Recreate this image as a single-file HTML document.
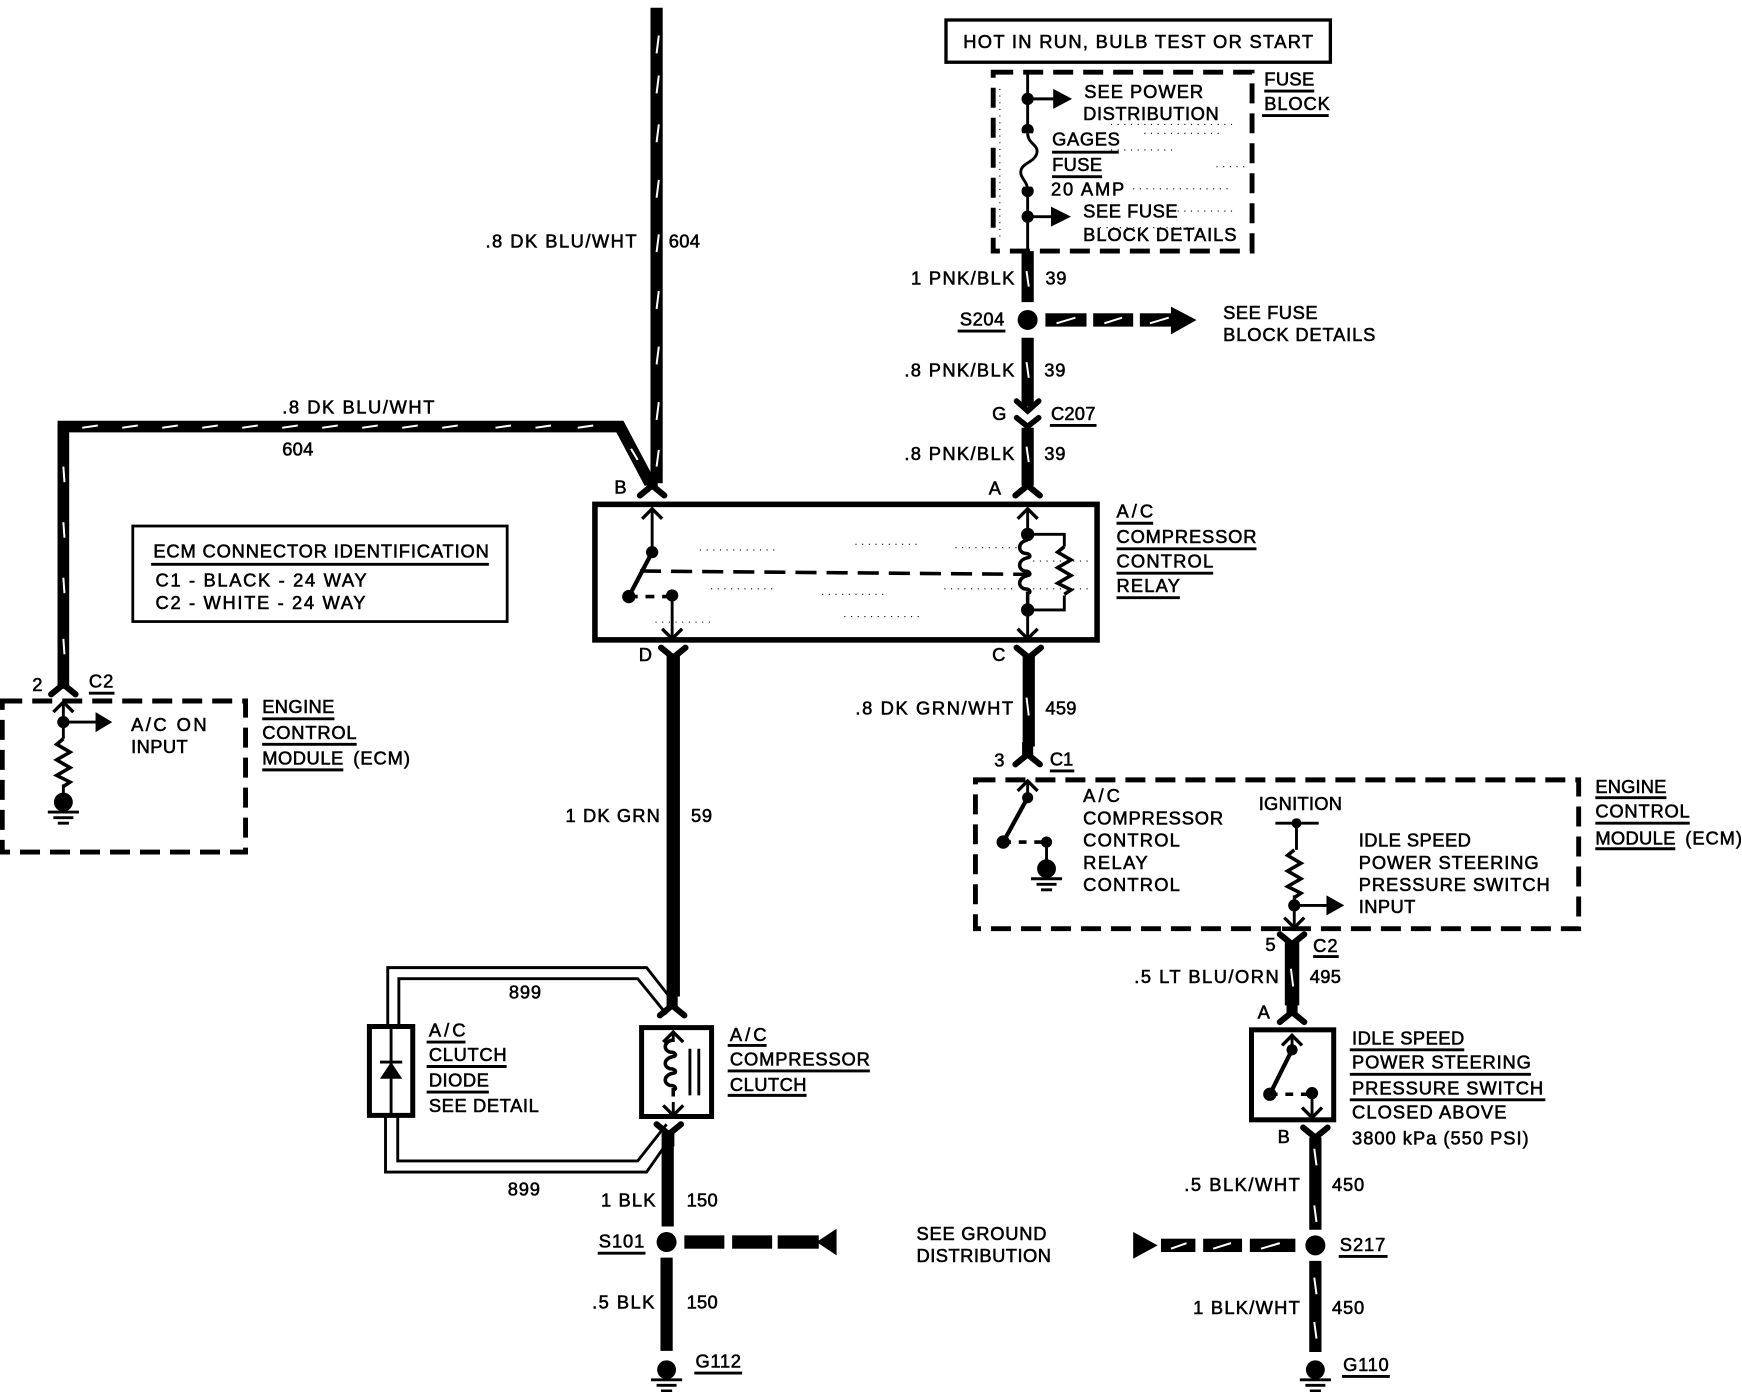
<!DOCTYPE html>
<html><head><meta charset="utf-8"><title>A/C Compressor Control Circuit</title>
<style>
html,body{margin:0;padding:0;background:#fff}
svg{display:block}
text{font-family:"Liberation Sans",sans-serif;font-size:16.5px;fill:#000;stroke:#000;stroke-width:.5}
.w{fill:none;stroke:#000;stroke-linejoin:miter}
.s{fill:none;stroke:#000;stroke-width:2.6}
.u{fill:none;stroke:#000;stroke-width:2.6}
.d{fill:none;stroke:#000;stroke-width:4.4;stroke-dasharray:18 9}
.h{fill:none;stroke:#fff;stroke-width:1.8}
.n{fill:none;stroke:#000;stroke-width:1;stroke-dasharray:1 5}
</style></head><body>
<svg xmlns="http://www.w3.org/2000/svg" width="1742" height="1392" viewBox="0 0 1568 1253">
<defs>
<g id="fd"><path d="M-11,6 L0,-3 L11,6" fill="none" stroke="#000" stroke-width="5.5" stroke-linecap="round"/><rect x="-5" y="-14" width="10" height="12"/></g>
<g id="fu"><path d="M-11,-6 L0,3 L11,-6" fill="none" stroke="#000" stroke-width="5.5" stroke-linecap="round"/><rect x="-5" y="2" width="10" height="12"/></g>
<path id="au" d="M-9,9 L0,0 L9,9" fill="none" stroke="#000" stroke-width="3"/>
<path id="ad" d="M-9,-9 L0,0 L9,-9" fill="none" stroke="#000" stroke-width="3"/>
<path id="res" d="M0,0 l-6,5 l12,7 l-12,7 l12,7 l-12,7 l12,6 l-6,4" fill="none" stroke="#000" stroke-width="3.2"/>
<path id="coil" d="M0,0 c-9,2 -9,9 -3,11 c6,0 6,4 3,4 c-9,2 -9,9 -3,11 c6,0 6,4 3,4 c-9,2 -9,9 -3,11 c6,0 6,4 3,4 l0,6" fill="none" stroke="#000" stroke-width="3.2"/>
<g id="gnd"><circle r="8.5" cx="0" cy="0"/><path d="M-14,9 H14 M-9,14 H9 M-5,19 H5" stroke="#000" stroke-width="2.6"/></g>
</defs>

<!-- speckle -->
<path class="n" d="M630,495 H700 M770,490 H830 M860,493 H915 M640,530 H700 M740,535 H800 M850,530 H915 M590,560 H640 M760,555 H830 M930,505 H980 M930,530 H980
M900,80 V215 M1000,112 H1110 M1030,120 H1100 M1020,170 H1110 M1060,190 H1110 M990,205 H1080 M1095,150 H1120 M1000,135 H1060"/>

<!-- Top box and fuse block -->
<rect x="851.5" y="18" width="346" height="38" fill="#fff" stroke="#000" stroke-width="3"/>
<text x="867" y="43" textLength="315">HOT IN RUN, BULB TEST OR START</text>
<rect x="894" y="65" width="233" height="161" class="d"/>
<path class="s" d="M925,65 V226"/>
<circle cx="925" cy="89" r="5.5"/><circle cx="925" cy="117" r="5.5"/><circle cx="925" cy="172" r="5.5"/><circle cx="925" cy="195" r="5.5"/>
<path class="s" d="M925,89 H950 M925,195 H950"/>
<path d="M948,80 L965,89 L948,98 Z M946,186 L964,195 L946,204 Z"/>
<rect x="920" y="120" width="14" height="48" fill="#fff"/>
<path class="s" stroke-width="3" d="M925,120 C925,130 936,130 933,139 C930,147 917,147 919,157 C921,163 925,164 925,172"/>
<text x="976" y="88" textLength="107">SEE POWER</text>
<text x="975" y="108" textLength="122">DISTRIBUTION</text>
<text x="947" y="131" textLength="61">GAGES</text>
<text x="947" y="154" textLength="45">FUSE</text>
<text x="946" y="176" textLength="66">20 AMP</text>
<text x="975" y="196" textLength="85">SEE FUSE</text>
<text x="975" y="217" textLength="138">BLOCK DETAILS</text>
<text x="1138" y="77" textLength="45">FUSE</text>
<text x="1138" y="99" textLength="59">BLOCK</text>
<path class="u" d="M947,137 H1007 M947,159 H992 M1138,82 H1183 M1136,104 H1196"/>

<!-- Right vertical 39 wire -->
<path class="w" stroke-width="11" d="M925,226 V272 M925,304 V366 M925,385 V437"/>
<path class="h" d="M924,244 L926,258 M924,326 L926,340 M924,402 L926,416"/>
<circle cx="925" cy="288" r="9"/>
<path d="M915,361 L925,370 L935,361 M915,376 L925,384 L935,376" fill="none" stroke="#000" stroke-width="5" stroke-linecap="round"/>
<use href="#fd" x="925" y="440"/>
<text x="820" y="256" textLength="93">1 PNK/BLK</text><text x="941" y="256" textLength="19">39</text>
<text x="864" y="293" textLength="40">S204</text><path class="u" d="M862,298 H905"/>
<rect x="941" y="282" width="37" height="12"/><rect x="984" y="282" width="36" height="12"/><rect x="1026" y="282" width="32" height="12"/>
<path d="M1054,276 L1077,288 L1054,301 Z"/>
<path class="h" d="M951,291 L968,286 M994,291 L1010,286 M1035,291 L1052,286"/>
<text x="1101" y="287" textLength="85">SEE FUSE</text>
<text x="1101" y="307" textLength="137">BLOCK DETAILS</text>
<text x="814" y="339" textLength="99">.8 PNK/BLK</text><text x="940" y="339" textLength="19">39</text>
<text x="893" y="378" textLength="12">G</text><text x="946" y="378" textLength="40">C207</text><path class="u" d="M945,383 H987"/>
<text x="814" y="414" textLength="99">.8 PNK/BLK</text><text x="940" y="414" textLength="19">39</text>
<text x="890" y="445" textLength="12">A</text><text x="553" y="444" textLength="11">B</text>

<!-- Thick 604 wire -->
<path class="w" stroke-width="11" d="M591,7 V435"/>
<path class="w" stroke-width="10.5" d="M57,620 V384 H558 L585,435"/>
<path class="h" d="M593,32 L591,48 M593,68 L591,84 M593,112 L591,128 M593,162 L591,178 M593,211 L591,227 M593,262 L591,278 M593,312 L591,328 M593,362 L591,378 M593,405 L591,420 M568,404 L574,414
M74,385 L88,383 M110,385 L124,383 M146,385 L160,383 M182,385 L196,383 M218,385 L232,383 M254,385 L268,383 M290,385 L304,383 M326,385 L340,383 M362,385 L376,383 M398,385 L412,383 M446,385 L460,383 M482,385 L496,383 M520,385 L534,383
M57,420 L58,434 M57,470 L58,484 M57,520 L58,534 M57,575 L58,589"/>
<use href="#fd" x="587" y="440"/>
<text x="437" y="223" textLength="136">.8 DK BLU/WHT</text><text x="602" y="223" textLength="28">604</text>
<text x="254" y="372" textLength="137">.8 DK BLU/WHT</text><text x="254" y="410" textLength="28">604</text>

<!-- Relay box -->
<rect x="535.5" y="454" width="452" height="122" fill="none" stroke="#000" stroke-width="5"/>
<path class="s" d="M587,458 V497 M925,458 V481 M925,549 V575 M605,537 V575"/>
<use href="#au" x="587" y="458"/><use href="#au" x="925" y="458"/>
<use href="#ad" x="605" y="575"/><use href="#ad" x="925" y="575"/>
<circle cx="587" cy="497" r="5.5"/><circle cx="566" cy="537" r="6"/><circle cx="605" cy="536" r="5.5"/>
<path d="M587,497 L566,537" stroke="#000" stroke-width="3.8"/>
<path d="M566,537 H605" stroke="#000" stroke-width="3.2" stroke-dasharray="8 7" fill="none"/>
<path d="M576,514 L925,517" stroke="#000" stroke-width="3.2" stroke-dasharray="19 9" fill="none"/>
<circle cx="925" cy="481" r="6"/><circle cx="925" cy="549" r="6"/>
<path fill="none" stroke="#000" stroke-width="3.2" d="M925,486 c-9,2 -9,10 -3,12 c6,0 6,4 3,4 c-9,2 -9,10 -3,12 c6,0 6,4 3,4 c-9,2 -9,10 -3,12 c6,0 6,4 3,4 V549"/>
<path class="s" d="M925,481 H958 V492 M958,536 V549 H925"/>
<use href="#res" x="958" y="492"/>
<text x="575" y="595" textLength="12">D</text><text x="893" y="595" textLength="12">C</text>
<text x="1005" y="466" textLength="33">A/C</text><text x="1005" y="489" textLength="126">COMPRESSOR</text>
<text x="1005" y="511" textLength="87">CONTROL</text><text x="1005" y="533" textLength="57">RELAY</text>
<path class="u" d="M1005,471 H1038 M1005,494 H1131 M1005,516 H1092 M1005,538 H1062"/>

<!-- ECM connector ID -->
<rect x="119.5" y="473.5" width="337" height="86" fill="none" stroke="#000" stroke-width="2.5"/>
<text x="138" y="502" textLength="302">ECM CONNECTOR IDENTIFICATION</text>
<path class="u" d="M136,508 H440"/>
<text x="140" y="528" textLength="190">C1 - BLACK - 24 WAY</text>
<text x="140" y="548" textLength="189">C2 - WHITE - 24 WAY</text>

<!-- Left ECM -->
<rect x="2" y="631" width="219" height="136" class="d"/>
<use href="#fd" x="57" y="619"/><use href="#au" x="57" y="632"/>
<path class="s" d="M57,632 V665 M57,706 V722 M57,650 H88"/>
<circle cx="57" cy="650" r="5.5"/><path d="M86,641 L101,650 L86,659 Z"/>
<use href="#res" x="57" y="665"/>
<use href="#gnd" x="57" y="722"/>
<text x="29" y="622" textLength="10">2</text><text x="80" y="619" textLength="22">C2</text><path class="u" d="M80,624 H103"/>
<text x="118" y="658" textLength="68">A/C ON</text><text x="118" y="678" textLength="51">INPUT</text>
<text x="236" y="642" textLength="65">ENGINE</text><text x="236" y="665" textLength="85">CONTROL</text>
<text x="236" y="688" textLength="73">MODULE</text><text x="318" y="688" textLength="51">(ECM)</text>
<path class="u" d="M236,647 H301 M236,670 H321 M236,693 H309"/>

<!-- 459 wire -->
<use href="#fu" x="926" y="589"/>
<path class="w" stroke-width="11" d="M926,590 V672"/>
<path class="h" d="M924,628 L926,644"/>
<use href="#fd" x="925" y="682"/>
<text x="770" y="643" textLength="142">.8 DK GRN/WHT</text><text x="941" y="643" textLength="28">459</text>
<text x="895" y="690" textLength="10">3</text><text x="945" y="689" textLength="21">C1</text><path class="u" d="M945,694 H967"/>

<!-- Middle ECM -->
<rect x="878" y="702" width="543" height="134" class="d"/>
<use href="#au" x="925" y="703"/>
<path class="s" d="M925,703 V718 M942,758 V782 M1167,741 V765 M1165,806 V835 M1165,815 H1195 M1148,741 H1187"/>
<circle cx="925" cy="718" r="5"/><circle cx="903" cy="758" r="6"/><circle cx="942" cy="758" r="5"/><circle cx="1167" cy="741" r="4.5"/><circle cx="1165" cy="815" r="5.5"/>
<path d="M925,718 L903,758" stroke="#000" stroke-width="3.8"/>
<path d="M903,758 H942" stroke="#000" stroke-width="3.2" stroke-dasharray="7 7" fill="none"/>
<use href="#gnd" x="942" y="782"/>
<use href="#res" x="1165" y="765"/>
<path d="M1194,806 L1210,815 L1194,824 Z"/><use href="#ad" x="1165" y="835"/>
<text x="975" y="722" textLength="33">A/C</text><text x="975" y="742" textLength="126">COMPRESSOR</text>
<text x="975" y="762" textLength="87">CONTROL</text><text x="975" y="782" textLength="58">RELAY</text><text x="975" y="802" textLength="87">CONTROL</text>
<text x="1133" y="729" textLength="75">IGNITION</text>
<text x="1223" y="762" textLength="101">IDLE SPEED</text><text x="1223" y="782" textLength="162">POWER STEERING</text>
<text x="1223" y="802" textLength="172">PRESSURE SWITCH</text><text x="1223" y="822" textLength="51">INPUT</text>
<text x="1436" y="714" textLength="64">ENGINE</text><text x="1436" y="736" textLength="85">CONTROL</text>
<text x="1436" y="760" textLength="72">MODULE</text><text x="1517" y="760" textLength="51">(ECM)</text>
<path class="u" d="M1436,718 H1500 M1436,741 H1521 M1436,764 H1508"/>

<!-- 495 wire + switch -->
<path d="M1154,836 H1172" stroke="#000" stroke-width="4"/>
<use href="#fu" x="1163" y="847"/>
<path class="w" stroke-width="13" d="M1163,848 V905"/>
<path class="h" d="M1162,872 L1164,888"/>
<use href="#fd" x="1163" y="914"/>
<text x="1139" y="856" textLength="10">5</text><text x="1182" y="857" textLength="22">C2</text><path class="u" d="M1182,861 H1205"/>
<text x="1021" y="885" textLength="130">.5 LT BLU/ORN</text><text x="1179" y="885" textLength="28">495</text>
<text x="1132" y="917" textLength="11">A</text><text x="1150" y="1029" textLength="11">B</text>
<rect x="1126.5" y="927" width="74" height="81" fill="none" stroke="#000" stroke-width="4.5"/>
<use href="#au" x="1163" y="932"/>
<path class="s" d="M1163,932 V945 M1181,985 V1006"/>
<circle cx="1163" cy="945" r="5"/><circle cx="1143" cy="985" r="6"/><circle cx="1181" cy="984" r="5.5"/>
<path d="M1163,945 L1143,985" stroke="#000" stroke-width="3.8"/>
<path d="M1143,985 H1181" stroke="#000" stroke-width="3.2" stroke-dasharray="7 7" fill="none"/>
<use href="#ad" x="1181" y="1006"/>
<text x="1217" y="940" textLength="101">IDLE SPEED</text><text x="1217" y="962" textLength="161">POWER STEERING</text>
<text x="1217" y="985" textLength="172">PRESSURE SWITCH</text><text x="1217" y="1007" textLength="139">CLOSED ABOVE</text>
<text x="1217" y="1030" textLength="159">3800 kPa (550 PSI)</text>
<path class="u" d="M1215,945 H1318 M1215,967 H1378 M1215,990 H1391"/>

<use href="#fu" x="1184" y="1021"/>
<path class="w" stroke-width="11" d="M1184,1024 V1107 M1184,1135 V1217"/>
<path class="h" d="M1183,1034 L1185,1049 M1183,1085 L1185,1100 M1183,1150 L1185,1165 M1183,1190 L1185,1205"/>
<circle cx="1184" cy="1121" r="9"/>
<use href="#gnd" x="1184" y="1233"/>
<text x="1066" y="1072" textLength="104">.5 BLK/WHT</text><text x="1199" y="1072" textLength="29">450</text>
<text x="1206" y="1126" textLength="41">S217</text><path class="u" d="M1205,1131 H1249"/>
<text x="1074" y="1183" textLength="96">1 BLK/WHT</text><text x="1199" y="1183" textLength="29">450</text>
<text x="1209" y="1234" textLength="41">G110</text><path class="u" d="M1208,1239 H1251"/>
<path d="M1020,1109 L1042,1121 L1020,1133 Z"/>
<rect x="1045" y="1115" width="31" height="12"/><rect x="1083" y="1115" width="35" height="12"/><rect x="1125" y="1115" width="41" height="12"/>
<path class="h" d="M1054,1124 L1068,1119 M1092,1124 L1108,1119 M1135,1124 L1152,1119"/>

<!-- 59 wire, clutch, diode -->
<use href="#fu" x="606" y="589"/>
<path class="w" stroke-width="12" d="M606,590 V897"/>
<use href="#fd" x="605" y="908"/>
<text x="509" y="740" textLength="85">1 DK GRN</text><text x="622" y="740" textLength="19">59</text>
<path class="s" d="M349,922 V871 H582 L604,899 M359,922 V881 H574 L600,913"/>
<path class="s" d="M347,1005 V1055 H582 L603,1025 M358,1005 V1045 H574 L600,1012"/>
<rect x="332.5" y="924" width="39" height="80" fill="#fff" stroke="#000" stroke-width="4.5"/>
<path class="s" d="M352,924 V1004"/>
<path d="M342,956 H362" stroke="#000" stroke-width="2.5"/><path d="M352,956 L342,971 H362 Z"/>
<rect x="577.5" y="925" width="63" height="80" fill="#fff" stroke="#000" stroke-width="4.5"/>
<use href="#au" x="606" y="929"/><use href="#ad" x="606" y="1004"/>
<path class="s" d="M606,929 V938 M606,992 V1004 M621,944 V986 M629,944 V986"/>
<use href="#coil" x="606" y="936"/>
<use href="#fu" x="602" y="1018"/>
<path class="w" stroke-width="11" d="M601,1020 V1104 M600,1132 V1216"/>
<circle cx="600" cy="1118" r="9"/>
<use href="#gnd" x="600" y="1233"/>
<rect x="616" y="1112" width="36" height="12"/><rect x="659" y="1112" width="36" height="12"/><rect x="700" y="1112" width="37" height="12"/>
<path d="M753,1106 L735,1118 L753,1130 Z"/>
<text x="458" y="899" textLength="29">899</text><text x="457" y="1076" textLength="29">899</text>
<text x="386" y="933" textLength="33">A/C</text><text x="386" y="955" textLength="70">CLUTCH</text>
<text x="386" y="978" textLength="54">DIODE</text><text x="386" y="1001" textLength="99">SEE DETAIL</text>
<path class="u" d="M384,938 H419 M384,960 H456 M384,983 H440"/>
<text x="657" y="937" textLength="33">A/C</text><text x="657" y="959" textLength="126">COMPRESSOR</text><text x="657" y="982" textLength="69">CLUTCH</text>
<path class="u" d="M655,941 H690 M655,964 H783 M655,986 H726"/>
<text x="541" y="1086" textLength="49">1 BLK</text><text x="618" y="1086" textLength="28">150</text>
<text x="539" y="1123" textLength="41">S101</text><path class="u" d="M538,1128 H581"/>
<text x="533" y="1178" textLength="56">.5 BLK</text><text x="618" y="1178" textLength="28">150</text>
<text x="626" y="1231" textLength="41">G112</text><path class="u" d="M625,1236 H668"/>
<text x="825" y="1116" textLength="117">SEE GROUND</text><text x="825" y="1136" textLength="121">DISTRIBUTION</text>
</svg>
</body></html>
